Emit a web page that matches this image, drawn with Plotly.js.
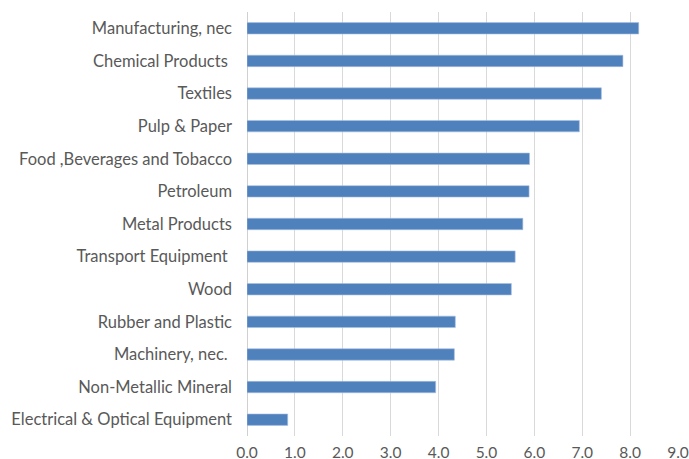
<!DOCTYPE html>
<html><head><meta charset="utf-8">
<script src="https://cdn.plot.ly/plotly-3.0.1.min.js"></script>
<style>html,body{margin:0;padding:0;background:#fff}#chart{width:689px;height:459px}</style>
</head><body><div id="chart"></div>
<script>
const categories = [
  "Manufacturing, nec",
  "Chemical Products\u00a0",
  "Textiles",
  "Pulp & Paper",
  "Food ,Beverages and Tobacco",
  "Petroleum",
  "Metal Products",
  "Transport Equipment\u00a0",
  "Wood",
  "Rubber and Plastic",
  "Machinery, nec.\u00a0",
  "Non-Metallic Mineral",
  "Electrical & Optical Equipment"
];
const values = [8.18, 7.85, 7.40, 6.94, 5.90, 5.89, 5.76, 5.60, 5.52, 4.35, 4.33, 3.94, 0.85];
const xTicks = [0,1,2,3,4,5,6,7,8,9];
const xTickLabels = ["0.0","1.0","2.0","3.0","4.0","5.0","6.0","7.0","8.0","9.0"];

const trace = {
  type: 'bar', orientation: 'h',
  x: values, y: categories,
  marker: {color: '#4f81bd', line: {color: '#a9c0e0', width: 0.6}},
  width: 0.35,
  hoverinfo: 'x+y'
};
const font = {family: 'Lato, "Open Sans", sans-serif', size: 16.5, color: '#595959'};
const xfont = {family: 'Lato, "Open Sans", sans-serif', size: 15.5, color: '#595959'};
const layout = {
  width: 689, height: 459,
  margin: {l: 247, r: 11, t: 12, b: 23, pad: 0},
  paper_bgcolor: '#fff', plot_bgcolor: '#fff',
  showlegend: false,
  font: font,
  bargap: 0.65,
  xaxis: {
    range: [0, 9], tickvals: xTicks, ticktext: xTickLabels,
    showgrid: true, gridcolor: '#d9d9d9', gridwidth: 1,
    zeroline: true, zerolinecolor: '#d0d0d0', zerolinewidth: 1,
    showline: false, ticks: '', tickfont: xfont, ticklabelstandoff: 5,
    ticklabeloverflow: 'allow', fixedrange: true
  },
  yaxis: {
    autorange: 'reversed', type: 'category',
    showgrid: false, zeroline: false, showline: false, ticks: '',
    tickfont: font, ticklabelstandoff: 14, fixedrange: true
  }
};
Plotly.newPlot('chart', [trace], layout, {displayModeBar: false, staticPlot: true});
</script></body></html>
